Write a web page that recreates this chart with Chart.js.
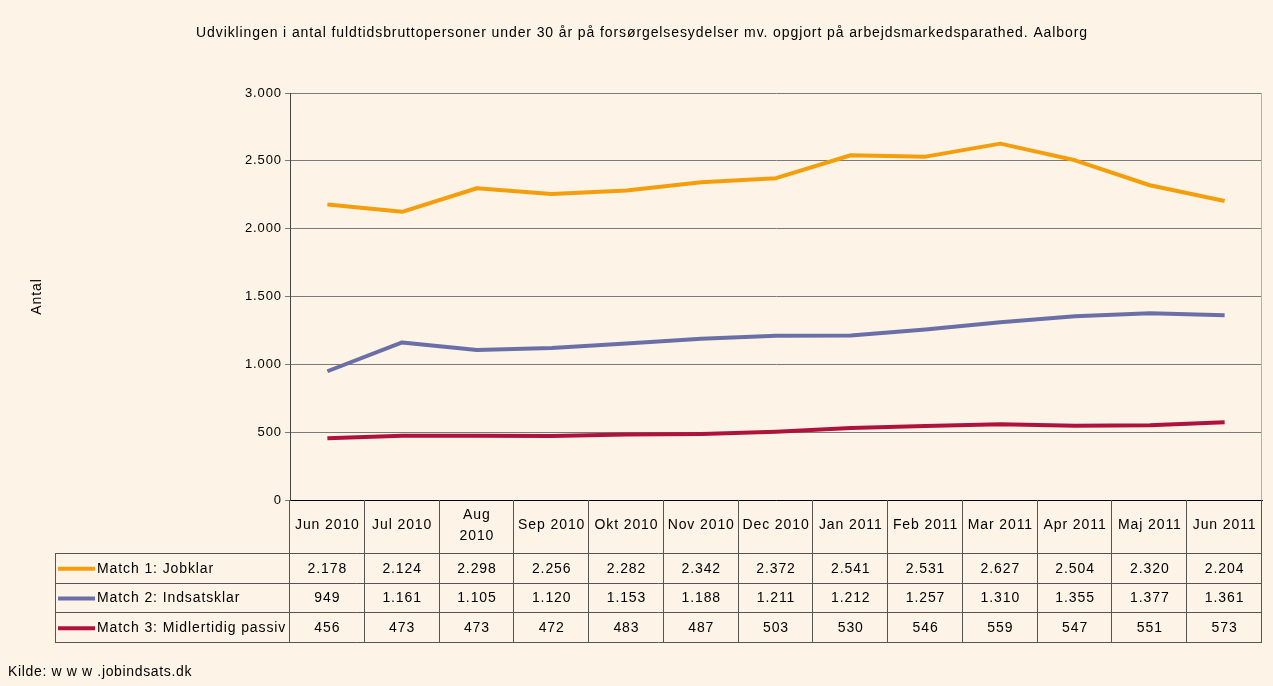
<!DOCTYPE html>
<html>
<head>
<meta charset="utf-8">
<script src="https://cdn.jsdelivr.net/npm/chart.js@4"></script>
<style>
  body { margin: 0; background: #fdf3e6; }
  canvas { display: block; }
</style>
</head>
<body>
<canvas id="chart" width="1273" height="686"></canvas>
<script>
const months = ['Jun 2010', 'Jul 2010', ['Aug', '2010'], 'Sep 2010', 'Okt 2010', 'Nov 2010', 'Dec 2010',
    'Jan 2011', 'Feb 2011', 'Mar 2011', 'Apr 2011', 'Maj 2011', 'Jun 2011'];
const jobklar = [2178, 2124, 2298, 2256, 2282, 2342, 2372, 2541, 2531, 2627, 2504, 2320, 2204];
const indsatsklar = [949, 1161, 1105, 1120, 1153, 1188, 1211, 1212, 1257, 1310, 1355, 1377, 1361];
const passiv = [456, 473, 473, 472, 483, 487, 503, 530, 546, 559, 547, 551, 573];
const seriesNames = ['Match 1: Jobklar', 'Match 2: Indsatsklar', 'Match 3: Midlertidig passiv'];
const seriesColors = ['#f59e0b', '#6b6fa8', '#b0123e'];

const FONT = '"Liberation Sans", Arial, sans-serif';
const fmt = v => v.toLocaleString('de-DE');

// the original text is a bit wider than Arial, so add some spacing
const spacing = {
    id: 'spacing',
    beforeInit(chart) { chart.ctx.letterSpacing = '0.9px'; },
    beforeUpdate(chart) { chart.ctx.letterSpacing = '0.9px'; },
    beforeDraw(chart) { chart.ctx.letterSpacing = '0.9px'; }
};

// table under the plot: legend keys + values per month
const dataTable = {
    id: 'dataTable',
    afterDraw(chart) {
        const ctx = chart.ctx;
        const xs = chart.scales.x;
        const area = chart.chartArea;
        const n = months.length;
        const colW = (xs.right - xs.left) / n;
        const headTop = area.bottom;
        const headBottom = 553;
        const rowH = 29.7;
        const tableLeft = 55;
        ctx.save();

        // right border of plot
        ctx.strokeStyle = '#b8b0a6';
        ctx.lineWidth = 1;
        ctx.beginPath();
        ctx.moveTo(area.right - 0.5, area.top);
        ctx.lineTo(area.right - 0.5, area.bottom);
        ctx.stroke();

        ctx.strokeStyle = '#555';
        ctx.beginPath();
        for (let r = 0; r <= 3; r++) {
            const y = Math.round(headBottom + r * rowH) + 0.5;
            ctx.moveTo(tableLeft, y);
            ctx.lineTo(xs.right, y);
        }
        ctx.moveTo(tableLeft + 0.5, headBottom);
        ctx.lineTo(tableLeft + 0.5, headBottom + 3 * rowH);
        for (let i = 0; i <= n; i++) {
            const x = Math.round(xs.left + i * colW) - 0.5;
            ctx.moveTo(x, headTop);
            ctx.lineTo(x, headBottom + 3 * rowH);
        }
        ctx.stroke();

        const rows = [jobklar, indsatsklar, passiv];
        ctx.font = '14px ' + FONT;
        ctx.textBaseline = 'middle';
        rows.forEach((vals, r) => {
            const yc = headBottom + r * rowH + rowH / 2 + 1;
            ctx.strokeStyle = seriesColors[r];
            ctx.lineWidth = 4;
            ctx.beginPath();
            ctx.moveTo(tableLeft + 3, yc);
            ctx.lineTo(tableLeft + 40, yc);
            ctx.stroke();
            ctx.fillStyle = '#000';
            ctx.textAlign = 'left';
            ctx.fillText(seriesNames[r], tableLeft + 42, yc);
            ctx.textAlign = 'center';
            vals.forEach((v, i) => {
                ctx.fillText(fmt(v), xs.getPixelForValue(i), yc);
            });
        });

        ctx.textAlign = 'left';
        ctx.letterSpacing = '0.65px';
        ctx.fillText('Kilde: w w w .jobindsats.dk', 8, 672);
        ctx.restore();
    }
};

new Chart(document.getElementById('chart'), {
    type: 'line',
    data: {
        labels: months,
        datasets: [
            { label: seriesNames[0], data: jobklar, borderColor: seriesColors[0] },
            { label: seriesNames[1], data: indsatsklar, borderColor: seriesColors[1] },
            { label: seriesNames[2], data: passiv, borderColor: seriesColors[2] }
        ]
    },
    options: {
        responsive: false,
        animation: false,
        layout: { padding: { left: 22, right: 11, top: 0, bottom: 44 } },
        elements: {
            line: { borderWidth: 4, tension: 0, borderJoinStyle: 'round' },
            point: { radius: 0 }
        },
        plugins: {
            legend: { display: false },
            tooltip: { enabled: false },
            title: {
                display: true,
                text: 'Udviklingen i antal fuldtidsbruttopersoner under 30 år på forsørgelsesydelser mv. opgjort på arbejdsmarkedsparathed. Aalborg',
                color: '#000',
                font: { family: FONT, size: 14, weight: 'normal' },
                padding: { top: 24.6, bottom: 51.6 }
            }
        },
        scales: {
            x: {
                offset: true,
                afterFit: s => { s.height = 142; },
                grid: { drawOnChartArea: false, drawTicks: true, tickLength: 53, offset: true, color: 'rgba(0,0,0,0)' },
                border: { color: '#000', width: 1 },
                ticks: {
                    color: '#000',
                    autoSkip: false,
                    maxRotation: 0,
                    padding: -38,
                    crossAlign: 'center',
                    font: { family: FONT, size: 14, lineHeight: 1.5 }
                }
            },
            y: {
                min: 0,
                max: 3000,
                afterFit: s => { s.width = 268; },
                grid: { color: '#7a7a7a', tickLength: 5 },
                border: { color: '#444', width: 1 },
                ticks: {
                    stepSize: 500,
                    color: '#000',
                    padding: 3,
                    font: { family: FONT, size: 13 },
                    callback: v => fmt(v)
                },
                title: {
                    display: true,
                    text: 'Antal',
                    color: '#000',
                    font: { family: FONT, size: 14 },
                    padding: { top: 7 }
                }
            }
        }
    },
    plugins: [spacing, dataTable]
});
</script>
</body>
</html>
